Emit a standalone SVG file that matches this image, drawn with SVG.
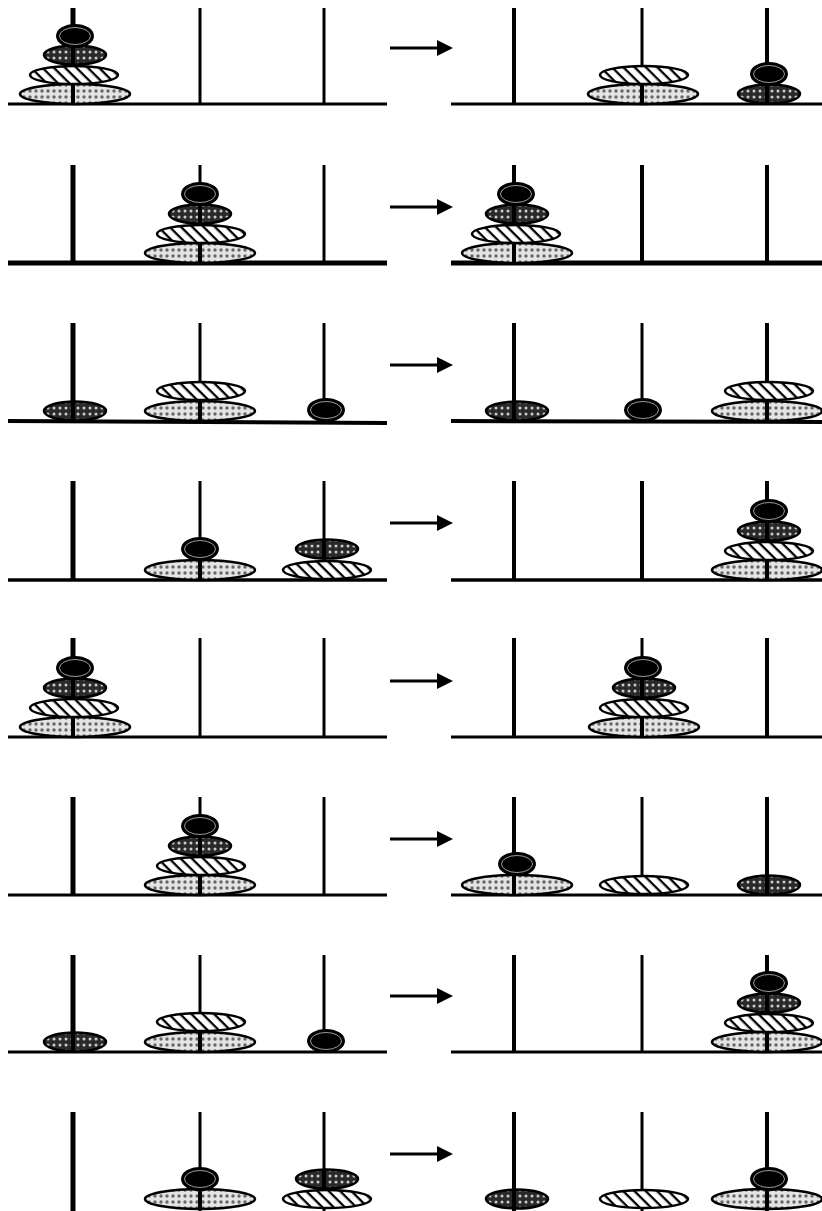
<svg xmlns="http://www.w3.org/2000/svg" xmlns:xlink="http://www.w3.org/1999/xlink" width="822" height="1211" viewBox="0 0 822 1211">
<style>
.L{fill:url(#pL);stroke:#000;stroke-width:2.5}
.H{fill:url(#pH);stroke:#000;stroke-width:2.5}
.D{fill:url(#pD);stroke:#000;stroke-width:2.5}
.S{fill:#000;stroke:#000;stroke-width:2}
.Si{fill:none;stroke:#fff;stroke-width:0.6}
.pk{stroke:#000;stroke-width:5}
.pm{stroke:#000;stroke-width:4}
.pt{stroke:#000;stroke-width:3}
.base{stroke:#000;stroke-width:3}
.arr{stroke:#000;stroke-width:3}
.ah{fill:#000}
</style>
<defs>
<pattern id="pL" width="6" height="6" patternUnits="userSpaceOnUse"><rect width="6" height="6" fill="#e4e4e4"/><circle cx="3" cy="3" r="1.7" fill="#666"/></pattern>
<pattern id="pD" width="6" height="6" patternUnits="userSpaceOnUse"><rect width="6" height="6" fill="#2a2a2a"/><circle cx="3" cy="3" r="1.5" fill="#ccc"/></pattern>
<pattern id="pH" width="8" height="8" patternUnits="userSpaceOnUse" patternTransform="rotate(45)"><rect width="8" height="8" fill="#fff"/><rect width="8" height="2.3" fill="#000"/></pattern>
<g id="dL"><ellipse rx="55" ry="10" class="L"/></g>
<g id="dH"><ellipse rx="44" ry="9" class="H"/></g>
<g id="dD"><ellipse rx="31" ry="9.5" class="D"/></g>
<g id="dS"><ellipse rx="18" ry="11" class="S"/><ellipse rx="15.5" ry="8.5" class="Si"/></g>
<line id="seg" x1="0" y1="-10" x2="0" y2="10" stroke="#000" stroke-width="4"/>
</defs>

<!-- Row 1 -->
<g id="row1" transform="translate(0,0)">
 <g id="r1-before">
  <line class="base" x1="8" y1="104" x2="387" y2="104"/>
  <line class="pk" x1="73" y1="8" x2="73" y2="104"/>
  <line class="pt" x1="200" y1="8" x2="200" y2="104"/>
  <line class="pt" x1="324" y1="8" x2="324" y2="104"/>
  <use href="#dL" x="75" y="94"/><use href="#seg" x="73" y="94"/>
  <use href="#dH" x="74" y="75"/>
  <use href="#dD" x="75" y="55"/><use href="#seg" x="73" y="55"/>
  <use href="#dS" x="75" y="36"/>
 </g>
 <g id="r1-after">
  <line class="base" x1="451" y1="104" x2="822" y2="104"/>
  <line class="pm" x1="514" y1="8" x2="514" y2="104"/>
  <line class="pt" x1="642" y1="8" x2="642" y2="104"/>
  <line class="pm" x1="767" y1="8" x2="767" y2="104"/>
  <use href="#dL" x="643" y="94"/><use href="#seg" x="642" y="94"/>
  <use href="#dH" x="644" y="75"/>
  <use href="#dD" x="769" y="94"/><use href="#seg" x="767" y="94"/>
  <use href="#dS" x="769" y="74"/>
 </g>
</g>

<!-- Row 2 -->
<g id="row2" transform="translate(0,159)">
 <g id="r2-before">
  <line class="base" style="stroke-width:5" x1="8" y1="104" x2="387" y2="104"/>
  <line class="pk" x1="73" y1="6" x2="73" y2="104"/>
  <line class="pt" x1="200" y1="6" x2="200" y2="104"/>
  <line class="pt" x1="324" y1="6" x2="324" y2="104"/>
  <use href="#dL" x="200" y="94"/><use href="#seg" x="200" y="94"/>
  <use href="#dH" x="201" y="75"/>
  <use href="#dD" x="200" y="55"/><use href="#seg" x="200" y="55"/>
  <use href="#dS" x="200" y="35"/>
 </g>
 <g id="r2-after">
  <line class="base" style="stroke-width:5" x1="451" y1="104" x2="822" y2="104"/>
  <line class="pm" x1="514" y1="6" x2="514" y2="104"/>
  <line class="pm" x1="642" y1="6" x2="642" y2="104"/>
  <line class="pm" x1="767" y1="6" x2="767" y2="104"/>
  <use href="#dL" x="517" y="94"/><use href="#seg" x="514" y="94"/>
  <use href="#dH" x="516" y="75"/>
  <use href="#dD" x="517" y="55"/><use href="#seg" x="514" y="55"/>
  <use href="#dS" x="516" y="35"/>
 </g>
</g>

<!-- Row 3 -->
<g id="row3" transform="translate(0,317)">
 <g id="r3-before">
  <line class="base" style="stroke-width:4" x1="8" y1="104" x2="387" y2="106"/>
  <line class="pk" x1="73" y1="6" x2="73" y2="104"/>
  <line class="pt" x1="200" y1="6" x2="200" y2="105"/>
  <line class="pt" x1="324" y1="6" x2="324" y2="106"/>
  <use href="#dD" x="75" y="94"/><use href="#seg" x="73" y="94"/>
  <use href="#dL" x="200" y="94"/><use href="#seg" x="200" y="94"/>
  <use href="#dH" x="201" y="74"/>
  <use href="#dS" x="326" y="93"/>
 </g>
 <g id="r3-after">
  <line class="base" style="stroke-width:4" x1="451" y1="104" x2="822" y2="105"/>
  <line class="pm" x1="514" y1="6" x2="514" y2="104"/>
  <line class="pt" x1="642" y1="6" x2="642" y2="105"/>
  <line class="pm" x1="767" y1="6" x2="767" y2="105"/>
  <use href="#dD" x="517" y="94"/><use href="#seg" x="514" y="94"/>
  <use href="#dS" x="643" y="93"/>
  <use href="#dL" x="767" y="94"/><use href="#seg" x="767" y="94"/>
  <use href="#dH" x="769" y="74"/>
 </g>
</g>

<!-- Row 4 -->
<g id="row4" transform="translate(0,476)">
 <g id="r4-before">
  <line class="base" style="stroke-width:3.5" x1="8" y1="104" x2="387" y2="104"/>
  <line class="pk" x1="73" y1="5" x2="73" y2="104"/>
  <line class="pt" x1="200" y1="5" x2="200" y2="104"/>
  <line class="pt" x1="324" y1="5" x2="324" y2="104"/>
  <use href="#dL" x="200" y="94"/><use href="#seg" x="200" y="94"/>
  <use href="#dS" x="200" y="73"/>
  <use href="#dH" x="327" y="94"/>
  <use href="#dD" x="327" y="73"/><use href="#seg" x="324" y="73"/>
 </g>
 <g id="r4-after">
  <line class="base" style="stroke-width:3.5" x1="451" y1="104" x2="822" y2="104"/>
  <line class="pm" x1="514" y1="5" x2="514" y2="104"/>
  <line class="pm" x1="642" y1="5" x2="642" y2="104"/>
  <line class="pm" x1="767" y1="5" x2="767" y2="104"/>
  <use href="#dL" x="767" y="94"/><use href="#seg" x="767" y="94"/>
  <use href="#dH" x="769" y="75"/>
  <use href="#dD" x="769" y="55"/><use href="#seg" x="767" y="55"/>
  <use href="#dS" x="769" y="35"/>
 </g>
</g>

<!-- Row 5 -->
<g id="row5" transform="translate(0,633)">
 <g id="r5-before">
  <line class="base" x1="8" y1="104" x2="387" y2="104"/>
  <line class="pk" x1="73" y1="5" x2="73" y2="104"/>
  <line class="pt" x1="200" y1="5" x2="200" y2="104"/>
  <line class="pt" x1="324" y1="5" x2="324" y2="104"/>
  <use href="#dL" x="75" y="94"/><use href="#seg" x="73" y="94"/>
  <use href="#dH" x="74" y="75"/>
  <use href="#dD" x="75" y="55"/><use href="#seg" x="73" y="55"/>
  <use href="#dS" x="75" y="35"/>
 </g>
 <g id="r5-after">
  <line class="base" x1="451" y1="104" x2="822" y2="104"/>
  <line class="pm" x1="514" y1="5" x2="514" y2="104"/>
  <line class="pt" x1="642" y1="5" x2="642" y2="104"/>
  <line class="pm" x1="767" y1="5" x2="767" y2="104"/>
  <use href="#dL" x="644" y="94"/><use href="#seg" x="642" y="94"/>
  <use href="#dH" x="644" y="75"/>
  <use href="#dD" x="644" y="55"/><use href="#seg" x="642" y="55"/>
  <use href="#dS" x="643" y="35"/>
 </g>
</g>

<!-- Row 6 -->
<g id="row6" transform="translate(0,791)">
 <g id="r6-before">
  <line class="base" x1="8" y1="104" x2="387" y2="104"/>
  <line class="pk" x1="73" y1="6" x2="73" y2="104"/>
  <line class="pt" x1="200" y1="6" x2="200" y2="104"/>
  <line class="pt" x1="324" y1="6" x2="324" y2="104"/>
  <use href="#dL" x="200" y="94"/><use href="#seg" x="200" y="94"/>
  <use href="#dH" x="201" y="75"/>
  <use href="#dD" x="200" y="55"/><use href="#seg" x="200" y="55"/>
  <use href="#dS" x="200" y="35"/>
 </g>
 <g id="r6-after">
  <line class="base" x1="451" y1="104" x2="822" y2="104"/>
  <line class="pm" x1="514" y1="6" x2="514" y2="104"/>
  <line class="pt" x1="642" y1="6" x2="642" y2="104"/>
  <line class="pm" x1="767" y1="6" x2="767" y2="104"/>
  <use href="#dL" x="517" y="94"/><use href="#seg" x="514" y="94"/>
  <use href="#dS" x="517" y="73"/>
  <use href="#dH" x="644" y="94"/>
  <use href="#dD" x="769" y="94"/><use href="#seg" x="767" y="94"/>
 </g>
</g>

<!-- Row 7 -->
<g id="row7" transform="translate(0,948)">
 <g id="r7-before">
  <line class="base" x1="8" y1="104" x2="387" y2="104"/>
  <line class="pk" x1="73" y1="7" x2="73" y2="104"/>
  <line class="pt" x1="200" y1="7" x2="200" y2="104"/>
  <line class="pt" x1="324" y1="7" x2="324" y2="104"/>
  <use href="#dD" x="75" y="94"/><use href="#seg" x="73" y="94"/>
  <use href="#dL" x="200" y="94"/><use href="#seg" x="200" y="94"/>
  <use href="#dH" x="201" y="74"/>
  <use href="#dS" x="326" y="93"/>
 </g>
 <g id="r7-after">
  <line class="base" x1="451" y1="104" x2="822" y2="104"/>
  <line class="pm" x1="514" y1="7" x2="514" y2="104"/>
  <line class="pt" x1="642" y1="7" x2="642" y2="104"/>
  <line class="pm" x1="767" y1="7" x2="767" y2="104"/>
  <use href="#dL" x="767" y="94"/><use href="#seg" x="767" y="94"/>
  <use href="#dH" x="769" y="75"/>
  <use href="#dD" x="769" y="55"/><use href="#seg" x="767" y="55"/>
  <use href="#dS" x="769" y="35"/>
 </g>
</g>

<!-- Row 8 -->
<g id="row8" transform="translate(0,1106)">
 <g id="r8-before">
  <line class="pk" x1="73" y1="6" x2="73" y2="105"/>
  <line class="pt" x1="200" y1="6" x2="200" y2="105"/>
  <line class="pt" x1="324" y1="6" x2="324" y2="105"/>
  <use href="#dL" x="200" y="93"/><use href="#seg" x="200" y="93"/>
  <use href="#dS" x="200" y="73"/>
  <use href="#dH" x="327" y="93"/>
  <use href="#dD" x="327" y="73"/><use href="#seg" x="324" y="73"/>
 </g>
 <g id="r8-after">
  <line class="pm" x1="514" y1="6" x2="514" y2="105"/>
  <line class="pt" x1="642" y1="6" x2="642" y2="105"/>
  <line class="pm" x1="767" y1="6" x2="767" y2="105"/>
  <use href="#dD" x="517" y="93"/><use href="#seg" x="514" y="93"/>
  <use href="#dH" x="644" y="93"/>
  <use href="#dL" x="767" y="93"/><use href="#seg" x="767" y="93"/>
  <use href="#dS" x="769" y="73"/>
 </g>
</g>

<!-- Connectors -->
<g id="connectors">
 <line class="arr" x1="390" y1="48" x2="440" y2="48"/><polygon class="ah" points="437,40 453,48 437,56"/>
 <line class="arr" x1="390" y1="207" x2="440" y2="207"/><polygon class="ah" points="437,199 453,207 437,215"/>
 <line class="arr" x1="390" y1="365" x2="440" y2="365"/><polygon class="ah" points="437,357 453,365 437,373"/>
 <line class="arr" x1="390" y1="523" x2="440" y2="523"/><polygon class="ah" points="437,515 453,523 437,531"/>
 <line class="arr" x1="390" y1="681" x2="440" y2="681"/><polygon class="ah" points="437,673 453,681 437,689"/>
 <line class="arr" x1="390" y1="839" x2="440" y2="839"/><polygon class="ah" points="437,831 453,839 437,847"/>
 <line class="arr" x1="390" y1="996" x2="440" y2="996"/><polygon class="ah" points="437,988 453,996 437,1004"/>
 <line class="arr" x1="390" y1="1154" x2="440" y2="1154"/><polygon class="ah" points="437,1146 453,1154 437,1162"/>
</g>
</svg>
